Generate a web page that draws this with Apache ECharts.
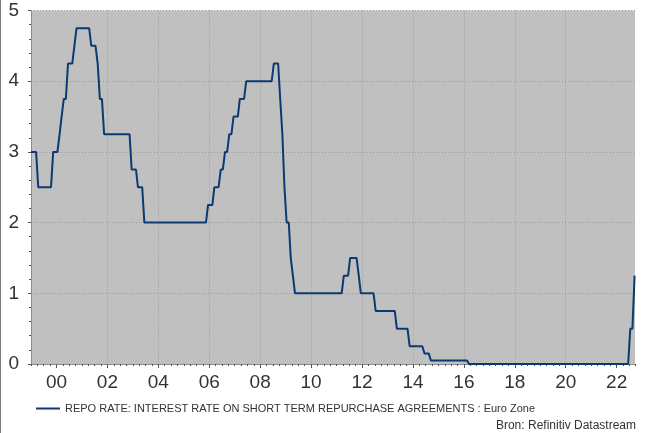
<!DOCTYPE html>
<html>
<head>
<meta charset="utf-8">
<script src="https://cdn.jsdelivr.net/npm/echarts@6/dist/echarts.min.js"></script>
<style>
html,body{margin:0;padding:0;background:#fff;}
#chart{width:648px;height:433px;}
</style>
</head>
<body>
<div id="chart"></div>
<script>
// Vertices of the monthly repo-rate line (date of observation, rate in %)
var dates = [
  '1999-01-01','1999-03-15','1999-04-15','1999-10-15','1999-11-15',
  '2000-01-15','2000-02-15','2000-03-15','2000-04-15','2000-05-15','2000-06-15','2000-08-15','2000-09-15','2000-10-15',
  '2001-04-15','2001-05-15','2001-07-15','2001-08-15','2001-09-15','2001-10-15','2001-11-15',
  '2002-11-15','2002-12-15',
  '2003-02-15','2003-03-15','2003-05-15','2003-06-15',
  '2005-11-15','2005-12-15',
  '2006-02-15','2006-03-15','2006-05-15','2006-06-15','2006-07-15','2006-08-15','2006-09-15','2006-10-15','2006-11-15','2006-12-15',
  '2007-02-15','2007-03-15','2007-05-15','2007-06-15',
  '2008-06-15','2008-07-15','2008-09-15','2008-10-15','2008-11-15','2008-12-15',
  '2009-01-15','2009-02-15','2009-03-15','2009-04-15','2009-05-15',
  '2011-03-15','2011-04-15','2011-06-15','2011-07-15','2011-10-15','2011-11-15','2011-12-15',
  '2012-06-15','2012-07-15',
  '2013-04-15','2013-05-15','2013-10-15','2013-11-15',
  '2014-05-15','2014-06-15','2014-08-15','2014-09-15',
  '2016-02-15','2016-03-15',
  '2022-06-15','2022-07-15','2022-08-15','2022-09-15'
];
var repoRate = [
  3.00,3.00,2.50,2.50,3.00,
  3.00,3.25,3.50,3.75,3.75,4.25,4.25,4.50,4.75,
  4.75,4.50,4.50,4.25,3.75,3.75,3.25,
  3.25,2.75,
  2.75,2.50,2.50,2.00,
  2.00,2.25,
  2.25,2.50,2.50,2.75,2.75,3.00,3.00,3.25,3.25,3.50,
  3.50,3.75,3.75,4.00,
  4.00,4.25,4.25,3.75,3.25,2.50,
  2.00,2.00,1.50,1.25,1.00,
  1.00,1.25,1.25,1.50,1.50,1.25,1.00,
  1.00,0.75,
  0.75,0.50,0.50,0.25,
  0.25,0.15,0.15,0.05,
  0.05,0.00,
  0.00,0.50,0.50,1.25
];
var yearTicks = [2000,2002,2004,2006,2008,2010,2012,2014,2016,2018,2020,2022];
var seriesName = 'REPO RATE: INTEREST RATE ON SHORT TERM REPURCHASE AGREEMENTS : Euro Zone';
var sourceText = 'Bron: Refinitiv Datastream';

function toDecimalYear(s) {
  var p = s.split('-').map(Number);
  var t = Date.UTC(p[0], p[1] - 1, p[2]);
  var a = Date.UTC(p[0], 0, 1), b = Date.UTC(p[0] + 1, 0, 1);
  return p[0] + (t - a) / (b - a);
}
var points = dates.map(function (d, i) { return [toDecimalYear(d), repoRate[i]]; });

var X_MIN = 1999, X_MAX = 2022.72;
var FONT = '"Liberation Sans", Arial, sans-serif';

var chart = echarts.init(document.getElementById('chart'), null, {renderer: 'canvas'});
chart.setOption({
  animation: false,
  backgroundColor: '#ffffff',
  grid: {left: 31, right: 13, top: 10.5, bottom: 69, show: true, backgroundColor: '#c0c0c0', borderWidth: 0},
  legend: {
    show: true, left: 36, top: 403, padding: 0, icon: 'rect', itemWidth: 24, itemHeight: 2, itemGap: 6,
    textStyle: {fontFamily: FONT, fontSize: 11, color: '#333', padding: [0, 0, 0, 0]},
    data: [seriesName]
  },
  xAxis: [{
    type: 'value', min: X_MIN, max: X_MAX,
    axisLine: {show: true, lineStyle: {color: '#8c8c8c', width: 1}},
    axisTick: {show: true, customValues: yearTicks, length: 4, lineStyle: {color: '#555'}},
    axisLabel: {customValues: yearTicks, margin: 9, fontFamily: FONT, fontSize: 19, color: '#333',
      formatter: function (v) { return String(Math.round(v)).slice(2); }},
    splitLine: {show: true, showMinLine: false, showMaxLine: false, lineStyle: {color: '#999', type: [1, 2], width: 1}}
  }, {
    type: 'value', min: X_MIN, max: X_MAX, interval: 0.25, position: 'bottom',
    axisLine: {show: false},
    axisTick: {show: true, length: 2, lineStyle: {color: '#555'}},
    axisLabel: {show: false},
    splitLine: {show: false}
  }],
  yAxis: {
    type: 'value', min: 0, max: 5, interval: 1,
    axisLine: {show: true, lineStyle: {color: '#8c8c8c', width: 1}},
    axisTick: {show: true, length: 3, lineStyle: {color: '#555'}},
    minorTick: {show: true, splitNumber: 5, length: 2, lineStyle: {color: '#555'}},
    axisLabel: {margin: 12, fontFamily: FONT, fontSize: 19, color: '#333'},
    splitLine: {show: true, lineStyle: {color: '#999', type: [1, 2], width: 1}}
  },
  series: [{
    name: seriesName, type: 'line', xAxisIndex: 0, data: points,
    showSymbol: false, symbol: 'none',
    lineStyle: {color: '#0b3a73', width: 2},
    itemStyle: {color: '#0b3a73'}
  }],
  graphic: [
    {type: 'line', shape: {x1: 0.5, y1: 0, x2: 0.5, y2: 433}, style: {stroke: '#7a7a7a', lineWidth: 1}},
    {type: 'text', right: 12, top: 420, style: {text: sourceText, font: '12px ' + FONT, fill: '#333'}}
  ]
});
</script>
</body>
</html>
